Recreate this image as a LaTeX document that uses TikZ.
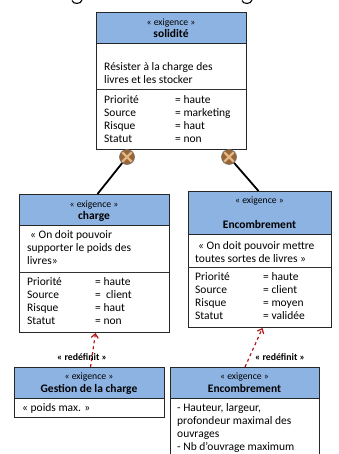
\documentclass[tikz,border=0pt]{standalone}
\usepackage{fontspec}
\setmainfont{Carlito}
\usetikzlibrary{arrows.meta}
\definecolor{hdrblue}{HTML}{8DB3E2}
\definecolor{refred}{HTML}{B01515}
\definecolor{knob}{HTML}{9A6535}
\definecolor{knobx}{HTML}{E2B585}
\begin{document}
\begin{tikzpicture}[x=1pt,y=-1pt,
  reqbox/.style={draw=black!85, line width=1pt, fill=white, rectangle,
    anchor=north west, inner sep=0pt},
  hdr/.style={fill=hdrblue, draw=black!85, line width=1pt},
  divline/.style={draw=black!80, line width=1pt},
  txt/.style={inner sep=0pt, font=\fontsize{11.5}{13}\selectfont},
  stereo/.style={inner sep=0pt, anchor=base, font=\fontsize{9.7}{11}\selectfont},
  ttl/.style={inner sep=0pt, anchor=base, font=\fontsize{11.5}{13}\selectfont\bfseries},
  lbl/.style={inner sep=0pt, font=\fontsize{9.8}{11}\selectfont\bfseries},
  knobnode/.style={circle, fill=knob, draw=black!55, line width=0.6pt,
    minimum size=15pt, inner sep=0pt},
  contain/.style={line width=1.8pt, draw=black},
  refines/.style={refred, dashed, line width=1.2pt,
    -{Straight Barb[length=4pt,width=7pt]}}
]
\useasboundingbox (0,0) rectangle (339,454);
\clip (0,0) rectangle (339,454);

% tails of the heading letters above
\draw[line width=1.1pt] (72,0.5) .. controls (73,4.5) and (81,4.5) .. (82,0);
\draw[line width=1.1pt] (242,0.5) .. controls (243,4.5) and (251,4.5) .. (252,0);

% ---------- solidité ----------
\node[reqbox, minimum width=150pt, minimum height=136pt] (sol) at (96,13) {};
\filldraw[hdr] (96,13) rectangle (246,44);
\draw[divline] (96,90) -- (246,90);
\node[stereo] (solst) at (171,26) {« exigence »};
\node[ttl] (solname) at (171,38) {solidité};
\node[txt, anchor=base west] (soldesc) at (104,70.5)
  {\begin{tabular}[t]{@{}l@{}}Résister à la charge des\\ livres et les stocker\end{tabular}};
\node[txt, anchor=base west] (solattr) at (104,103.5)
  {\begin{tabular}[t]{@{}p{71pt}@{}l@{}}
   Priorité & = haute\\ Source & = marketing\\ Risque & = haut\\ Statut & = non
   \end{tabular}};

% ---------- charge ----------
\node[reqbox, minimum width=150pt, minimum height=138pt] (chg) at (19,194) {};
\filldraw[hdr] (19,194) rectangle (169,225);
\draw[divline] (19,272) -- (169,272);
\node[stereo] (chgst) at (94,207) {« exigence »};
\node[ttl] (chgname) at (94,219) {charge};
\node[txt, anchor=base west] (chgdesc) at (27,238.5)
  {\begin{tabular}[t]{@{}l@{}}\hspace{3pt}« On doit pouvoir\\ supporter le poids des\\ livres»\end{tabular}};
\node[txt, anchor=base west] (chgattr) at (27,285.5)
  {\begin{tabular}[t]{@{}p{68pt}@{}l@{}}
   Priorité & = haute\\ Source & =\ \ client\\ Risque & = haut\\ Statut & = non
   \end{tabular}};

% ---------- Encombrement ----------
\node[reqbox, minimum width=143pt, minimum height=136pt] (enc) at (188,191) {};
\filldraw[hdr] (188,191) rectangle (331,234);
\draw[divline] (188,267) -- (331,267);
\node[stereo] (encst) at (259.5,203) {« exigence »};
\node[ttl] (encname) at (259.5,228) {Encombrement};
\node[txt, anchor=base west] (encdesc) at (195,249.5)
  {\begin{tabular}[t]{@{}l@{}}\hspace{3pt}« On doit pouvoir mettre\\ toutes sortes de livres »\end{tabular}};
\node[txt, anchor=base west] (encattr) at (195,280.5)
  {\begin{tabular}[t]{@{}p{68pt}@{}l@{}}
   Priorité & = haute\\ Source & = client\\ Risque & = moyen\\ Statut & = validée
   \end{tabular}};

% ---------- Gestion de la charge ----------
\node[reqbox, minimum width=150pt, minimum height=50pt] (gst) at (14,367) {};
\filldraw[hdr] (14,367) rectangle (164,398);
\node[stereo] (gstst) at (89,379) {« exigence »};
\node[ttl] (gstname) at (89,392) {Gestion de la charge};
\node[txt, anchor=base west] (gstdesc) at (22,411.5) {« poids max. »};

% ---------- Encombrement (détail) ----------
\node[reqbox, minimum width=149pt, minimum height=100pt] (enc2) at (170,367) {};
\filldraw[hdr] (170,367) rectangle (319,398);
\node[stereo] (enc2st) at (244.5,379) {« exigence »};
\node[ttl] (enc2name) at (244.5,392) {Encombrement};
\node[txt, anchor=base west] (enc2desc) at (177,411.5)
  {\begin{tabular}[t]{@{}l@{}}- Hauteur, largeur,\\ profondeur maximal des\\ ouvrages\\ - Nb d’ouvrage maximum\end{tabular}};

% ---------- containment ----------
\node[knobnode] (k1) at (127,157) {};
\node[knobnode] (k2) at (229,157) {};
\foreach \k in {k1,k2}{
  \draw[knobx, line width=2.2pt, shorten <=1.2pt, shorten >=1.2pt]
    (\k.north west) -- (\k.south east);
  \draw[knobx, line width=2.2pt, shorten <=1.2pt, shorten >=1.2pt]
    (\k.north east) -- (\k.south west);
}
\draw[contain] (k1) -- ([xshift=3pt]chg.north);
\draw[contain] (k2) -- ([xshift=-1.5pt]enc.north);

% ---------- refinements ----------
\draw[refines] ([xshift=1pt]gst.north) -- ([xshift=1pt]chg.south);
\draw[refines] (enc2.north) -- ([xshift=2.5pt]enc.south);
\node[lbl] (r1) at (82,357) {« redéfinit »};
\node[lbl] (r2) at (280,357) {« redéfinit »};
\end{tikzpicture}
\end{document}
